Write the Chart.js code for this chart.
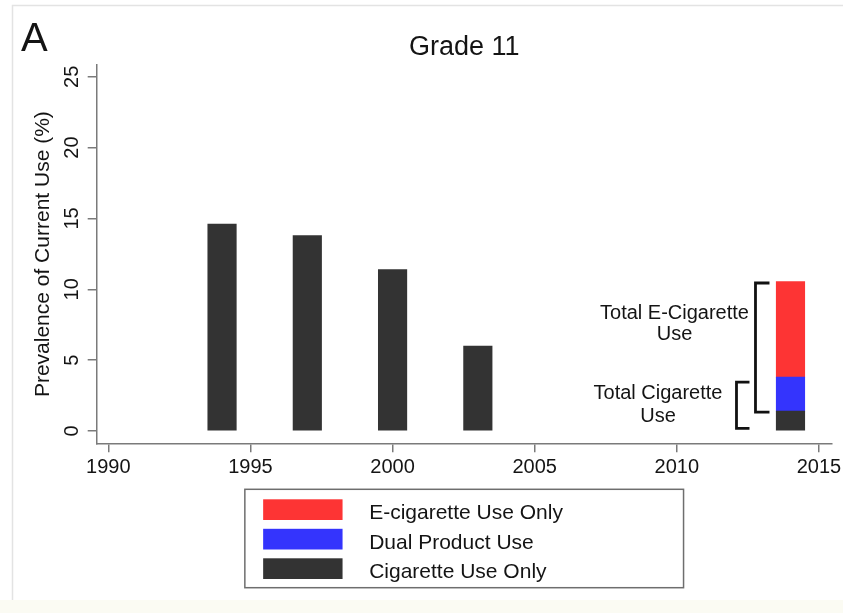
<!DOCTYPE html>
<html>
<head>
<meta charset="utf-8">
<script src="https://cdn.jsdelivr.net/npm/chart.js@4/dist/chart.umd.min.js"></script>
<style>
  html, body { margin: 0; padding: 0; background: #ffffff; }
  canvas { display: block; }
</style>
</head>
<body>
<canvas id="chart" width="843" height="613"></canvas>
<script>
// Survey years and prevalence of current use (%) among grade 11 students
const years = [1994, 1997, 2000, 2003, 2014];
const cigaretteOnly = [14.6, 13.8, 11.4, 6.0, 1.4];
const dualUse = [null, null, null, null, 2.4];
const ecigOnly = [null, null, null, null, 6.75];

const seriesLabels = ['Cigarette Use Only', 'Dual Product Use', 'E-cigarette Use Only'];
const seriesColors = ['#333333', '#3434fd', '#fd3434'];

const xTickValues = [1990, 1995, 2000, 2005, 2010, 2015];
const yTickValues = [0, 5, 10, 15, 20, 25];

const panelLetter = 'A';
const chartTitle = 'Grade 11';
const yAxisTitle = 'Prevalence of Current Use (%)';
const ecigBracketLabel = ['Total E-Cigarette', 'Use'];
const cigBracketLabel = ['Total Cigarette', 'Use'];

const FONT = '"Liberation Sans", Arial, Helvetica, sans-serif';
const font = (px) => `${px}px ${FONT}`;
const INK = '#141414';
const AXIS = '#7a7a7a';

const toPoints = (vals) => years
  .map((x, i) => ({ x, y: vals[i] }))
  .filter(p => p.y !== null);

// Frame, titles, tick labels, brackets and the boxed legend
const decorations = {
  id: 'decorations',
  beforeDraw(chart) {
    const { ctx, width, height } = chart;
    ctx.save();
    ctx.fillStyle = '#ffffff';
    ctx.fillRect(0, 0, width, height);
    ctx.fillStyle = '#fbfbf3';
    ctx.fillRect(0, 600, width, height - 600);
    ctx.strokeStyle = '#e3e3e3';
    ctx.lineWidth = 1.5;
    ctx.beginPath();
    ctx.moveTo(12.5, 600);
    ctx.lineTo(12.5, 5.5);
    ctx.lineTo(width, 5.5);
    ctx.stroke();
    ctx.restore();
  },
  afterDraw(chart) {
    const { ctx, chartArea: ca, scales: { x, y } } = chart;
    const midX = (ca.left + ca.right) / 2;
    ctx.save();
    ctx.fillStyle = INK;

    // panel letter and title
    ctx.font = font(40);
    ctx.textAlign = 'left';
    ctx.textBaseline = 'alphabetic';
    ctx.fillText(panelLetter, 21, 51);
    ctx.font = font(27);
    ctx.textAlign = 'center';
    ctx.fillText(chartTitle, midX, 55);

    // y axis title
    ctx.save();
    ctx.translate(49, (ca.top + ca.bottom) / 2);
    ctx.rotate(-Math.PI / 2);
    ctx.font = font(21);
    ctx.textAlign = 'center';
    ctx.fillText(yAxisTitle, 0, 0);
    ctx.restore();

    // y tick labels, rotated
    ctx.font = font(20);
    yTickValues.forEach(v => {
      ctx.save();
      ctx.translate(78, y.getPixelForValue(v));
      ctx.rotate(-Math.PI / 2);
      ctx.textAlign = 'center';
      ctx.fillText(String(v), 0, 0);
      ctx.restore();
    });

    // x tick labels
    ctx.textAlign = 'center';
    xTickValues.forEach(v => {
      ctx.fillText(String(v), x.getPixelForValue(v), 473);
    });

    // brackets beside the stacked bar
    const last = years.length - 1;
    const cig = cigaretteOnly[last];
    const dual = dualUse[last];
    const ecig = ecigOnly[last];
    const barCx = x.getPixelForValue(years[last]);
    const barLeft = barCx - 14;
    const bracket = (xv, xArm, yTop, yBot) => {
      ctx.beginPath();
      ctx.moveTo(xArm, yTop);
      ctx.lineTo(xv, yTop);
      ctx.lineTo(xv, yBot);
      ctx.lineTo(xArm, yBot);
      ctx.stroke();
    };
    ctx.strokeStyle = '#111111';
    ctx.lineWidth = 2.8;
    ctx.lineJoin = 'miter';
    const eTop = y.getPixelForValue(cig + dual + ecig) + 1.5;
    const eBot = y.getPixelForValue(cig) + 1;
    bracket(barLeft - 21, barLeft - 7, eTop, eBot);
    const cTop = y.getPixelForValue(cig + dual) + 5;
    const cBot = y.getPixelForValue(0) - 2.7;
    bracket(barLeft - 40, barLeft - 27, cTop, cBot);

    ctx.font = font(20);
    ctx.textAlign = 'center';
    ctx.fillText(ecigBracketLabel[0], barCx - 116, eTop + 36);
    ctx.fillText(ecigBracketLabel[1], barCx - 116, eTop + 57);
    ctx.fillText(cigBracketLabel[0], barCx - 132.5, cTop + 17);
    ctx.fillText(cigBracketLabel[1], barCx - 132.5, cTop + 40);

    // legend box
    const boxW = 438.7, boxH = 98.4;
    const boxL = midX - boxW / 2;
    const boxT = ca.bottom + 46;
    ctx.strokeStyle = '#6e6e6e';
    ctx.lineWidth = 1.5;
    ctx.strokeRect(boxL, boxT, boxW, boxH);
    const items = chart.data.datasets.slice().reverse();
    ctx.font = font(21);
    ctx.textAlign = 'left';
    items.forEach((ds, i) => {
      const top = boxT + 10 + i * 29.5;
      ctx.fillStyle = ds.backgroundColor;
      ctx.fillRect(boxL + 18.3, top, 79.4, 20.7);
      ctx.fillStyle = INK;
      ctx.fillText(ds.label, boxL + 124.3, top + 19.8);
    });
    ctx.restore();
  }
};

const gridStyle = {
  display: true,
  offset: false,
  drawOnChartArea: false,
  drawTicks: true,
  tickLength: 9,
  color: AXIS,
  lineWidth: 1.5
};

new Chart(document.getElementById('chart'), {
  type: 'bar',
  data: {
    datasets: [
      { label: seriesLabels[0], data: toPoints(cigaretteOnly), backgroundColor: seriesColors[0] },
      { label: seriesLabels[1], data: toPoints(dualUse), backgroundColor: seriesColors[1] },
      { label: seriesLabels[2], data: toPoints(ecigOnly), backgroundColor: seriesColors[2] }
    ]
  },
  options: {
    responsive: false,
    animation: false,
    devicePixelRatio: 1,
    barThickness: 28.5,
    layout: { padding: { left: 0, top: 65, right: 11.3, bottom: 0 } },
    plugins: {
      legend: { display: false },
      tooltip: { enabled: false },
      title: { display: false }
    },
    scales: {
      x: {
        type: 'linear',
        stacked: true,
        offset: false,
        min: 1989.59,
        max: 2015.45,
        afterFit: (s) => { s.height = 613 - 443.3; },
        afterBuildTicks: (s) => { s.ticks = xTickValues.map(v => ({ value: v })); },
        ticks: { display: false },
        grid: gridStyle,
        border: { display: true, color: AXIS, width: 1.5 }
      },
      y: {
        type: 'linear',
        stacked: true,
        min: -0.868,
        max: 25.83,
        afterFit: (s) => { s.width = 96.7; },
        afterBuildTicks: (s) => { s.ticks = yTickValues.map(v => ({ value: v })); },
        ticks: { display: false },
        grid: gridStyle,
        border: { display: true, color: AXIS, width: 1.5 }
      }
    }
  },
  plugins: [decorations]
});
</script>
</body>
</html>
